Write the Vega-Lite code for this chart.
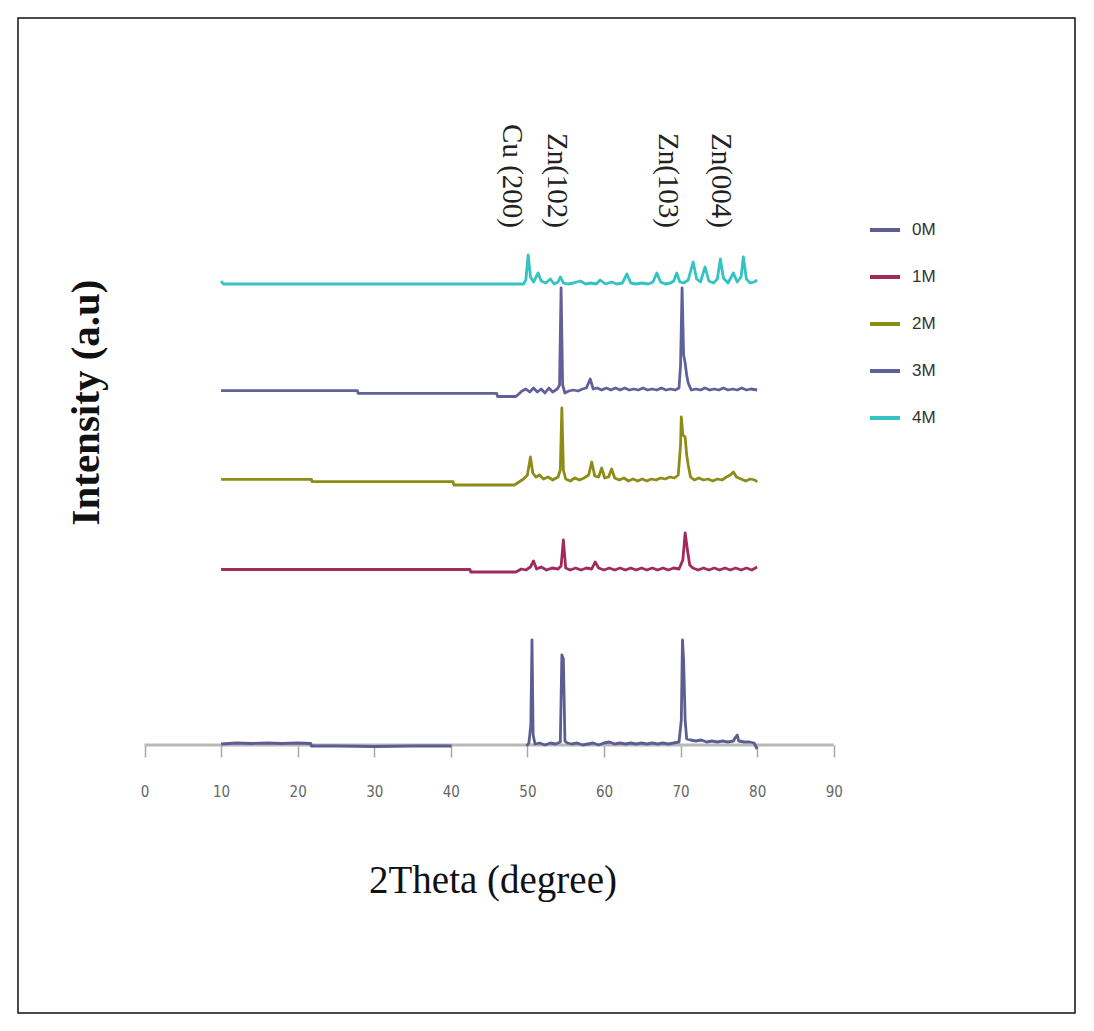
{
  "$schema": "https://vega.github.io/schema/vega-lite/v6.json",
  "width": 1057,
  "height": 995,
  "autosize": {"type": "none"},
  "padding": {"left": 18, "top": 18, "right": 19, "bottom": 18},
  "background": "white",
  "config": {
    "view": {"stroke": "#111", "strokeWidth": 1.5},
    "axis": {"grid": false}
  },
  "layer": [
    {
      "data": {"values": [{}]},
      "mark": {"type": "rule", "color": "#b8b8b8", "strokeWidth": 3},
      "encoding": {
        "x": {"datum": 0, "type": "quantitative"},
        "x2": {"datum": 90},
        "y": {"datum": 0, "type": "quantitative"}
      }
    },
    {
      "data": {"values": [
        {"s":"0M","t":10,"y":1},{"s":"0M","t":12,"y":2},{"s":"0M","t":14,"y":1.5},{"s":"0M","t":16,"y":2},{"s":"0M","t":18,"y":1.5},{"s":"0M","t":20,"y":2},{"s":"0M","t":21.7,"y":1.5},{"s":"0M","t":21.8,"y":-1},{"s":"0M","t":25,"y":-1},{"s":"0M","t":30,"y":-1.5},{"s":"0M","t":35,"y":-1},{"s":"0M","t":40.1,"y":-1},{"s":"0M","t":45,"y":null},{"s":"0M","t":49.9,"y":-1},{"s":"0M","t":50.2,"y":2},{"s":"0M","t":50.45,"y":20},{"s":"0M","t":50.6,"y":105},{"s":"0M","t":50.75,"y":10},{"s":"0M","t":51,"y":1},{"s":"0M","t":51.6,"y":2},{"s":"0M","t":52.3,"y":0},{"s":"0M","t":53,"y":2},{"s":"0M","t":53.7,"y":1},{"s":"0M","t":54.3,"y":3},{"s":"0M","t":54.5,"y":90},{"s":"0M","t":54.7,"y":86},{"s":"0M","t":54.9,"y":4},{"s":"0M","t":55.2,"y":2},{"s":"0M","t":55.8,"y":1},{"s":"0M","t":56.5,"y":2},{"s":"0M","t":57.2,"y":0},{"s":"0M","t":57.9,"y":1},{"s":"0M","t":58.6,"y":2},{"s":"0M","t":59.3,"y":0},{"s":"0M","t":60,"y":2},{"s":"0M","t":60.7,"y":3},{"s":"0M","t":61.4,"y":1},{"s":"0M","t":62.1,"y":2},{"s":"0M","t":62.8,"y":1},{"s":"0M","t":63.5,"y":2},{"s":"0M","t":64.2,"y":1},{"s":"0M","t":64.9,"y":2},{"s":"0M","t":65.6,"y":1},{"s":"0M","t":66.3,"y":2},{"s":"0M","t":67,"y":1},{"s":"0M","t":67.7,"y":2},{"s":"0M","t":68.4,"y":1},{"s":"0M","t":69.1,"y":2},{"s":"0M","t":69.8,"y":3},{"s":"0M","t":70.1,"y":25},{"s":"0M","t":70.25,"y":105},{"s":"0M","t":70.4,"y":85},{"s":"0M","t":70.6,"y":25},{"s":"0M","t":70.8,"y":6},{"s":"0M","t":71.3,"y":5},{"s":"0M","t":72,"y":4},{"s":"0M","t":72.7,"y":5},{"s":"0M","t":73.4,"y":3},{"s":"0M","t":74.1,"y":4},{"s":"0M","t":74.8,"y":3},{"s":"0M","t":75.5,"y":4},{"s":"0M","t":76.2,"y":3},{"s":"0M","t":76.9,"y":4},{"s":"0M","t":77.2,"y":8},{"s":"0M","t":77.4,"y":10},{"s":"0M","t":77.6,"y":4},{"s":"0M","t":78.3,"y":3},{"s":"0M","t":79,"y":3},{"s":"0M","t":79.6,"y":2},{"s":"0M","t":80,"y":-4},

        {"s":"1M","t":10,"y":175.5},{"s":"1M","t":20,"y":175.5},{"s":"1M","t":30,"y":175.5},{"s":"1M","t":42.5,"y":175.5},{"s":"1M","t":42.6,"y":173},{"s":"1M","t":45,"y":173},{"s":"1M","t":48.5,"y":173},{"s":"1M","t":49.2,"y":176},{"s":"1M","t":49.8,"y":175},{"s":"1M","t":50.4,"y":178},{"s":"1M","t":50.8,"y":184},{"s":"1M","t":51.2,"y":176},{"s":"1M","t":51.8,"y":178},{"s":"1M","t":52.5,"y":175},{"s":"1M","t":53.2,"y":177},{"s":"1M","t":54,"y":176},{"s":"1M","t":54.4,"y":179},{"s":"1M","t":54.7,"y":205},{"s":"1M","t":55,"y":177},{"s":"1M","t":55.6,"y":175},{"s":"1M","t":56.3,"y":177},{"s":"1M","t":57,"y":175},{"s":"1M","t":57.7,"y":177},{"s":"1M","t":58.4,"y":176},{"s":"1M","t":58.85,"y":183},{"s":"1M","t":59.3,"y":177},{"s":"1M","t":60,"y":175},{"s":"1M","t":60.7,"y":177},{"s":"1M","t":61.4,"y":175},{"s":"1M","t":62.1,"y":177},{"s":"1M","t":62.8,"y":175},{"s":"1M","t":63.5,"y":177},{"s":"1M","t":64.2,"y":175},{"s":"1M","t":64.9,"y":177},{"s":"1M","t":65.6,"y":175},{"s":"1M","t":66.3,"y":177},{"s":"1M","t":67,"y":175},{"s":"1M","t":67.7,"y":177},{"s":"1M","t":68.4,"y":175},{"s":"1M","t":69.1,"y":177},{"s":"1M","t":69.8,"y":176},{"s":"1M","t":70.3,"y":185},{"s":"1M","t":70.6,"y":212},{"s":"1M","t":70.9,"y":195},{"s":"1M","t":71.2,"y":180},{"s":"1M","t":71.6,"y":177},{"s":"1M","t":72.3,"y":175},{"s":"1M","t":73,"y":177},{"s":"1M","t":73.7,"y":175},{"s":"1M","t":74.4,"y":177},{"s":"1M","t":75.1,"y":175},{"s":"1M","t":75.8,"y":177},{"s":"1M","t":76.5,"y":175},{"s":"1M","t":77.2,"y":177},{"s":"1M","t":77.9,"y":175},{"s":"1M","t":78.6,"y":177},{"s":"1M","t":79.3,"y":175},{"s":"1M","t":80,"y":178},

        {"s":"2M","t":10,"y":265.7},{"s":"2M","t":15,"y":265.7},{"s":"2M","t":21.8,"y":265.7},{"s":"2M","t":21.9,"y":263.3},{"s":"2M","t":30,"y":263.3},{"s":"2M","t":40.3,"y":263.3},{"s":"2M","t":40.4,"y":260},{"s":"2M","t":45,"y":260},{"s":"2M","t":48.3,"y":260},{"s":"2M","t":48.9,"y":263},{"s":"2M","t":49.5,"y":266},{"s":"2M","t":50,"y":270},{"s":"2M","t":50.4,"y":288},{"s":"2M","t":50.7,"y":272},{"s":"2M","t":51.1,"y":268},{"s":"2M","t":51.6,"y":270},{"s":"2M","t":52.1,"y":266},{"s":"2M","t":52.7,"y":268},{"s":"2M","t":53.3,"y":265},{"s":"2M","t":54,"y":268},{"s":"2M","t":54.3,"y":275},{"s":"2M","t":54.5,"y":337},{"s":"2M","t":54.7,"y":275},{"s":"2M","t":55,"y":266},{"s":"2M","t":55.6,"y":264},{"s":"2M","t":56.2,"y":267},{"s":"2M","t":56.8,"y":265},{"s":"2M","t":57.4,"y":267},{"s":"2M","t":58,"y":270},{"s":"2M","t":58.4,"y":283},{"s":"2M","t":58.8,"y":269},{"s":"2M","t":59.3,"y":268},{"s":"2M","t":59.7,"y":277},{"s":"2M","t":60.1,"y":267},{"s":"2M","t":60.6,"y":268},{"s":"2M","t":61,"y":276},{"s":"2M","t":61.4,"y":267},{"s":"2M","t":62,"y":265},{"s":"2M","t":62.6,"y":267},{"s":"2M","t":63.2,"y":264},{"s":"2M","t":63.8,"y":266},{"s":"2M","t":64.4,"y":264},{"s":"2M","t":65,"y":266},{"s":"2M","t":65.6,"y":264},{"s":"2M","t":66.2,"y":266},{"s":"2M","t":66.8,"y":265},{"s":"2M","t":67.4,"y":267},{"s":"2M","t":68,"y":266},{"s":"2M","t":68.6,"y":268},{"s":"2M","t":69.2,"y":267},{"s":"2M","t":69.7,"y":270},{"s":"2M","t":70,"y":300},{"s":"2M","t":70.1,"y":328},{"s":"2M","t":70.3,"y":310},{"s":"2M","t":70.6,"y":308},{"s":"2M","t":70.8,"y":290},{"s":"2M","t":71,"y":280},{"s":"2M","t":71.3,"y":268},{"s":"2M","t":71.8,"y":265},{"s":"2M","t":72.4,"y":267},{"s":"2M","t":73,"y":265},{"s":"2M","t":73.6,"y":266},{"s":"2M","t":74.2,"y":264},{"s":"2M","t":74.8,"y":266},{"s":"2M","t":75.4,"y":265},{"s":"2M","t":76,"y":268},{"s":"2M","t":76.5,"y":270},{"s":"2M","t":76.9,"y":273},{"s":"2M","t":77.3,"y":268},{"s":"2M","t":77.9,"y":266},{"s":"2M","t":78.5,"y":264},{"s":"2M","t":79.1,"y":266},{"s":"2M","t":79.7,"y":265},{"s":"2M","t":80,"y":263},

        {"s":"3M","t":10,"y":354.3},{"s":"3M","t":20,"y":354.3},{"s":"3M","t":27.8,"y":354.3},{"s":"3M","t":27.9,"y":351.7},{"s":"3M","t":35,"y":351.7},{"s":"3M","t":46,"y":351.7},{"s":"3M","t":46.1,"y":348.5},{"s":"3M","t":48.5,"y":348.5},{"s":"3M","t":49.3,"y":354},{"s":"3M","t":49.8,"y":356},{"s":"3M","t":50.3,"y":353},{"s":"3M","t":50.8,"y":357},{"s":"3M","t":51.3,"y":353},{"s":"3M","t":51.8,"y":356},{"s":"3M","t":52.3,"y":352},{"s":"3M","t":52.8,"y":357},{"s":"3M","t":53.3,"y":353},{"s":"3M","t":53.9,"y":356},{"s":"3M","t":54.2,"y":360},{"s":"3M","t":54.4,"y":457},{"s":"3M","t":54.6,"y":360},{"s":"3M","t":54.9,"y":352},{"s":"3M","t":55.4,"y":354},{"s":"3M","t":56,"y":355},{"s":"3M","t":56.6,"y":354},{"s":"3M","t":57.2,"y":356},{"s":"3M","t":57.7,"y":357},{"s":"3M","t":58.2,"y":366},{"s":"3M","t":58.6,"y":356},{"s":"3M","t":59.1,"y":357},{"s":"3M","t":59.7,"y":355},{"s":"3M","t":60.3,"y":357},{"s":"3M","t":60.9,"y":355},{"s":"3M","t":61.5,"y":357},{"s":"3M","t":62.1,"y":355},{"s":"3M","t":62.7,"y":357},{"s":"3M","t":63.3,"y":355},{"s":"3M","t":63.9,"y":356},{"s":"3M","t":64.5,"y":355},{"s":"3M","t":65.1,"y":357},{"s":"3M","t":65.7,"y":355},{"s":"3M","t":66.3,"y":356},{"s":"3M","t":66.9,"y":355},{"s":"3M","t":67.5,"y":357},{"s":"3M","t":68.1,"y":355},{"s":"3M","t":68.7,"y":356},{"s":"3M","t":69.3,"y":355},{"s":"3M","t":69.8,"y":357},{"s":"3M","t":70,"y":380},{"s":"3M","t":70.2,"y":457},{"s":"3M","t":70.4,"y":390},{"s":"3M","t":70.6,"y":382},{"s":"3M","t":70.8,"y":370},{"s":"3M","t":71,"y":362},{"s":"3M","t":71.4,"y":355},{"s":"3M","t":72,"y":356},{"s":"3M","t":72.6,"y":355},{"s":"3M","t":73.2,"y":357},{"s":"3M","t":73.8,"y":355},{"s":"3M","t":74.4,"y":356},{"s":"3M","t":75,"y":355},{"s":"3M","t":75.6,"y":357},{"s":"3M","t":76.2,"y":355},{"s":"3M","t":76.8,"y":356},{"s":"3M","t":77.4,"y":355},{"s":"3M","t":78,"y":357},{"s":"3M","t":78.6,"y":355},{"s":"3M","t":79.2,"y":356},{"s":"3M","t":80,"y":355},

        {"s":"4M","t":10,"y":464},{"s":"4M","t":10.3,"y":461},{"s":"4M","t":20,"y":461},{"s":"4M","t":30,"y":461},{"s":"4M","t":40,"y":461},{"s":"4M","t":49.5,"y":461},{"s":"4M","t":49.8,"y":465},{"s":"4M","t":50.1,"y":490},{"s":"4M","t":50.4,"y":468},{"s":"4M","t":50.8,"y":463},{"s":"4M","t":51.4,"y":472},{"s":"4M","t":51.8,"y":464},{"s":"4M","t":52.4,"y":462},{"s":"4M","t":53,"y":466},{"s":"4M","t":53.5,"y":461},{"s":"4M","t":54,"y":463},{"s":"4M","t":54.3,"y":468},{"s":"4M","t":54.7,"y":462},{"s":"4M","t":55.3,"y":461},{"s":"4M","t":56,"y":462},{"s":"4M","t":56.9,"y":464},{"s":"4M","t":57.6,"y":461},{"s":"4M","t":58.3,"y":462},{"s":"4M","t":59,"y":461},{"s":"4M","t":59.5,"y":465},{"s":"4M","t":60.2,"y":461},{"s":"4M","t":61,"y":463},{"s":"4M","t":61.7,"y":461},{"s":"4M","t":62.4,"y":462},{"s":"4M","t":63,"y":471},{"s":"4M","t":63.5,"y":462},{"s":"4M","t":64.2,"y":461},{"s":"4M","t":65,"y":462},{"s":"4M","t":65.8,"y":461},{"s":"4M","t":66.4,"y":463},{"s":"4M","t":66.9,"y":472},{"s":"4M","t":67.4,"y":463},{"s":"4M","t":68,"y":461},{"s":"4M","t":68.7,"y":462},{"s":"4M","t":69.1,"y":464},{"s":"4M","t":69.5,"y":472},{"s":"4M","t":69.9,"y":463},{"s":"4M","t":70.4,"y":462},{"s":"4M","t":71,"y":465},{"s":"4M","t":71.65,"y":483},{"s":"4M","t":72.1,"y":466},{"s":"4M","t":72.6,"y":463},{"s":"4M","t":73.2,"y":478},{"s":"4M","t":73.7,"y":464},{"s":"4M","t":74.3,"y":462},{"s":"4M","t":74.8,"y":466},{"s":"4M","t":75.2,"y":486},{"s":"4M","t":75.6,"y":467},{"s":"4M","t":76.2,"y":462},{"s":"4M","t":76.9,"y":472},{"s":"4M","t":77.4,"y":463},{"s":"4M","t":77.9,"y":468},{"s":"4M","t":78.2,"y":488},{"s":"4M","t":78.6,"y":466},{"s":"4M","t":79.1,"y":462},{"s":"4M","t":79.6,"y":463},{"s":"4M","t":80,"y":465}
      ]},
      "mark": {"type": "line", "strokeWidth": 2.8, "strokeJoin": "round"},
      "encoding": {
        "x": {
          "field": "t", "type": "quantitative",
          "scale": {"domain": [-16.52, 121.51], "nice": false, "zero": false},
          "axis": {
            "values": [0, 10, 20, 30, 40, 50, 60, 70, 80, 90],
            "orient": "bottom",
            "offset": -268,
            "domain": false,
            "tickColor": "#a8a8a8",
            "tickWidth": 1.5,
            "tickSize": 12,
            "labelPadding": 27,
            "labelFont": "Liberation Sans Narrow, DejaVu Sans Condensed, Liberation Sans",
            "labelFontSize": 15,
            "labelColor": "#666",
            "title": "2Theta (degree)",
            "titleFont": "Liberation Serif",
            "titleFontWeight": "normal",
            "titleFontSize": 39,
            "titleColor": "#111",
            "titleX": 474.5,
            "titleY": 147,
            "titleAlign": "center",
            "titleBaseline": "alphabetic"
          }
        },
        "y": {
          "field": "y", "type": "quantitative",
          "scale": {"domain": [-268, 727], "nice": false, "zero": false},
          "axis": {
            "labels": false,
            "ticks": false,
            "domain": false,
            "title": "Intensity (a.u)",
            "titleFont": "Liberation Serif",
            "titleFontWeight": "bold",
            "titleFontSize": 41,
            "titleColor": "#111",
            "titleAngle": -90,
            "titleX": 80,
            "titleY": 384,
            "titleAlign": "center",
            "titleBaseline": "alphabetic"
          }
        },
        "color": {
          "field": "s", "type": "nominal",
          "scale": {
            "domain": ["0M", "1M", "2M", "3M", "4M"],
            "range": ["#5d5d92", "#a02a5a", "#8c8c16", "#60609a", "#33c3c3"]
          },
          "legend": {
            "title": null,
            "orient": "none",
            "legendX": 850,
            "legendY": 195,
            "padding": 0,
            "symbolType": "stroke",
            "symbolSize": 900,
            "symbolStrokeWidth": 4,
            "rowPadding": 22,
            "labelOffset": 10,
            "labelFont": "Liberation Sans",
            "labelFontSize": 17,
            "labelColor": "#333"
          }
        }
      }
    },
    {
      "data": {"values": [
        {"label": "Cu (200)", "t": 48.0, "y": 517},
        {"label": "Zn(102)", "t": 53.9, "y": 517},
        {"label": "Zn(103)", "t": 68.4, "y": 517},
        {"label": "Zn(004)", "t": 75.3, "y": 517}
      ]},
      "mark": {"type": "text", "angle": 90, "align": "right", "baseline": "middle", "font": "Liberation Serif", "fontSize": 29, "color": "#222"},
      "encoding": {
        "x": {"field": "t", "type": "quantitative"},
        "y": {"field": "y", "type": "quantitative"},
        "text": {"field": "label"}
      }
    }
  ]
}
